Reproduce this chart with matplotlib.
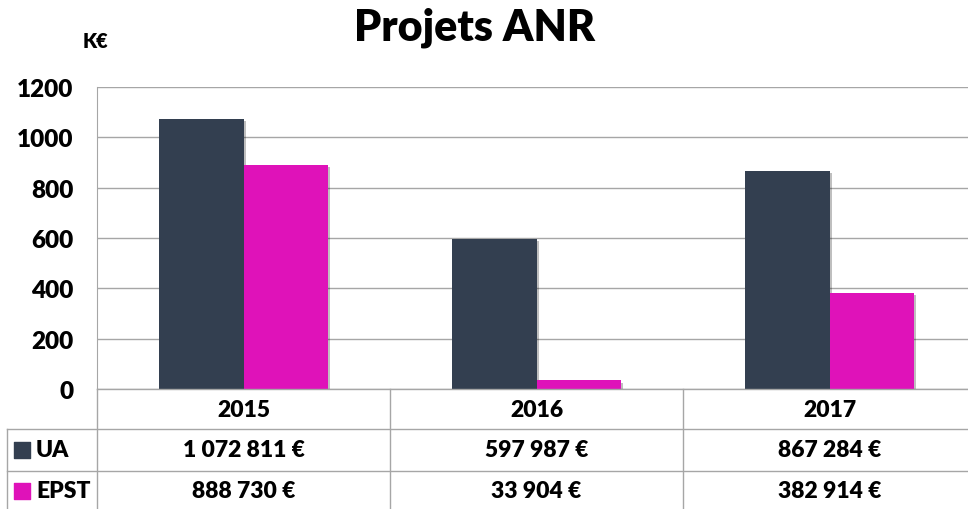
import numpy as np
import matplotlib.pyplot as plt
import matplotlib.patheffects as pe

plt.rcParams['font.family'] = ['Lato', 'DejaVu Sans']
plt.rcParams['font.weight'] = 'heavy'

years = ['2015', '2016', '2017']
series = ['UA', 'EPST']
ua_keur = [1072.811, 597.987, 867.284]
epst_keur = [888.730, 33.904, 382.914]
ua_labels = ['1 072 811 €', '597 987 €', '867 284 €']
epst_labels = ['888 730 €', '33 904 €', '382 914 €']
colors = ['#333f50', '#df12b9']
grid_col = '#a6a6a6'

W, H = 968, 510
fig = plt.figure(figsize=(W / 100, H / 100), dpi=100)

# plot area (right edge runs past the figure like in the original)
x0, x1 = 97, 976
y_top, y_zero = 88, 390
ax = fig.add_axes([x0 / W, (H - y_zero) / H, (x1 - x0) / W, (y_zero - y_top) / H])

x = np.arange(len(years))
bw = 0.287
shadow = [pe.SimplePatchShadow(offset=(1.5, -1.5), shadow_rgbFace='k', alpha=0.25), pe.Normal()]
for vals, off, c in [(ua_keur, -bw / 2, colors[0]), (epst_keur, bw / 2, colors[1])]:
    bars = ax.bar(x + off, vals, bw, color=c, zorder=3)
    for b in bars:
        b.set_path_effects(shadow)

ax.set_xlim(-0.5, 2.5)
ax.set_ylim(0, 1200)
ax.set_yticks(range(0, 1201, 200))
ax.yaxis.grid(True, color=grid_col, lw=1)
ax.set_axisbelow(True)
ax.set_xticks([])
ax.tick_params(axis='y', length=0, pad=17, labelsize=17.5)
for s in ['top', 'right', 'bottom']:
    ax.spines[s].set_visible(False)
ax.spines['left'].set_color(grid_col)

fig.text(475 / W, 1 - 28 / H, 'Projets ANR', ha='center', va='center', fontsize=31)
fig.text(96 / W, 1 - 42 / H, 'K€', ha='center', va='center', fontsize=14.5)

# data table below the plot
tab = fig.add_axes([x0 / W, 0, (x1 - x0) / W, (H - y_zero) / H])
tab.set_xlim(-0.5, 2.5)
tab.set_ylim(H, y_zero)
tab.axis('off')

px = lambda p: -0.5 + (p - x0) / (x1 - x0) * 3  # pixel -> data x
lkw = dict(color=grid_col, lw=1, clip_on=False)
tab.plot([px(x0), 2.5], [y_zero, y_zero], **lkw)
for yy in [430, 472]:
    tab.plot([px(7), 2.5], [yy, yy], **lkw)
for b in [-0.5, 0.5, 1.5]:
    tab.plot([b, b], [y_zero, H], **lkw)
tab.plot([px(7), px(7)], [430, H], **lkw)

fs = 16.5
for i, yr in enumerate(years):
    tab.text(i, 411, yr, ha='center', va='center', fontsize=fs)
    tab.text(i, 451, ua_labels[i], ha='center', va='center', fontsize=fs)
    tab.text(i, 492, epst_labels[i], ha='center', va='center', fontsize=fs)

for name, c, yy in zip(series, colors, [451, 492]):
    tab.scatter([px(22)], [yy], marker='s', s=120, color=c, clip_on=False)
    tab.text(px(36), yy, name, ha='left', va='center', fontsize=fs)

fig.savefig('out.png', dpi=100)
